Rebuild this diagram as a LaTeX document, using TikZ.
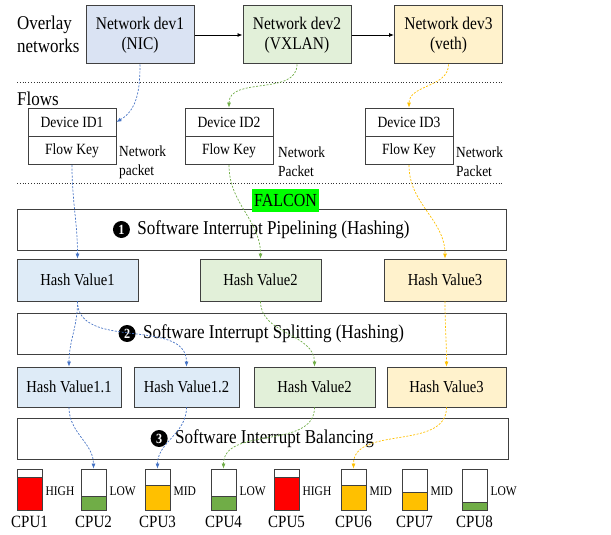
\documentclass[tikz,border=0pt]{standalone}
\usepackage{fontspec}
\setmainfont{Liberation Serif}[FakeStretch=0.87]
\usetikzlibrary{positioning,arrows.meta}
\definecolor{devBlue}{HTML}{DAE3F3}
\definecolor{hashBlue}{HTML}{DEEBF7}
\definecolor{devGreen}{HTML}{E2F0D9}
\definecolor{devYellow}{HTML}{FFF2CC}
\definecolor{lineBlue}{HTML}{4472C4}
\definecolor{lineGreen}{HTML}{70AD47}
\definecolor{lineYellow}{HTML}{FFC000}
\definecolor{edgeGray}{HTML}{404040}
\tikzset{
	%Diagram styles
	device/.style={
		draw=edgeGray,
		rectangle,
		line width=1pt,
		minimum width=108pt,
		minimum height=58pt,
		align=center,
		font=\fontsize{17.8}{20}\selectfont,
	},
	flowCell/.style={
		draw=edgeGray,
		rectangle,
		line width=0.8pt,
		minimum width=88pt,
		minimum height=28pt,
		inner sep=0pt,
		font=\fontsize{15.6}{18}\selectfont,
	},
	hashBox/.style={
		draw=edgeGray,
		rectangle,
		line width=0.8pt,
		inner sep=0pt,
		font=\fontsize{16.8}{19}\selectfont,
	},
	stage/.style={
		draw=edgeGray,
		rectangle,
		line width=0.8pt,
		minimum width=489pt,
		minimum height=41pt,
		inner sep=0pt,
	},
	stageText/.style={
		inner sep=0pt,
		font=\fontsize{19.6}{22}\selectfont,
	},
	stepMark/.style={
		circle,
		fill=black,
		text=white,
		inner sep=0pt,
		minimum size=17pt,
		font=\bfseries\fontsize{14}{15}\selectfont,
	},
	packetLabel/.style={
		anchor=west,
		align=left,
		inner sep=0pt,
		font=\fontsize{15.4}{19}\selectfont,
	},
	cpuBar/.style={
		draw=edgeGray,
		rectangle,
		line width=0.8pt,
		minimum width=25pt,
		minimum height=41pt,
		inner sep=0pt,
	},
	flowLink/.style={
		dashed,
		dash pattern=on 2pt off 1.5pt,
		line width=0.7pt,
		-{Latex[length=5pt,width=4pt]},
	},
	separator/.style={
		dotted,
		line width=0.8pt,
		black!80,
	}
}

\begin{document}
\begin{tikzpicture}[x=1pt, y=-1pt]
	\useasboundingbox (0,0) rectangle (611,535);

	\node[anchor=west, align=left, inner sep=0pt, font=\fontsize{19.5}{23}\selectfont] (overlayLabel) at (17,34) {Overlay\\networks};
	\node[device, fill=devBlue] (dev1) at (140,35) {Network dev1\\(NIC)};
	\node[device, fill=devGreen] (dev2) at (297,35) {Network dev2\\(VXLAN)};
	\node[device, fill=devYellow] (dev3) at (448.5,35) {Network dev3\\(veth)};
	\draw[line width=0.8pt, -{Latex[length=5pt,width=4pt]}] (dev1.east) -- (dev2.west);
	\draw[line width=0.8pt, -{Latex[length=5pt,width=4pt]}] (dev2.east) -- (dev3.west);

	\draw[separator] (17,82) -- (504,82);
	\node[anchor=west, inner sep=0pt, font=\fontsize{19.5}{22}\selectfont] (flowsLabel) at (17,99) {Flows};

	\node[flowCell] (devId1) at (72,122) {Device ID1};
	\node[flowCell, below=0pt of devId1] (flowKey1) {Flow Key};
	\node[flowCell] (devId2) at (229,122) {Device ID2};
	\node[flowCell, below=0pt of devId2] (flowKey2) {Flow Key};
	\node[flowCell] (devId3) at (409,122) {Device ID3};
	\node[flowCell, below=0pt of devId3] (flowKey3) {Flow Key};
	\node[packetLabel] (packet1) at (119,162) {Network\\packet};
	\node[packetLabel] (packet2) at (278,162) {Network\\Packet};
	\node[packetLabel] (packet3) at (456,162) {Network\\Packet};

	\draw[separator] (17,183) -- (504,183);

	\node[stage] (pipeBox) at (261.5,229.5) {};
	\node[stageText] (pipeText) at ([xshift=12pt]pipeBox.center) {Software Interrupt Pipelining (Hashing)};
	\node[stepMark, left=7pt of pipeText] (step1) {1};
	\node[fill=green, inner sep=1pt, minimum width=67pt, minimum height=23pt, font=\fontsize{18.4}{20}\selectfont] (falcon) at (285.5,200.5) {FALCON};

	\node[hashBox, fill=hashBlue, minimum width=121pt, minimum height=42pt] (hash1) at (77.5,280) {Hash Value1};
	\node[hashBox, fill=devGreen, minimum width=121pt, minimum height=42pt] (hash2) at (260.5,280) {Hash Value2};
	\node[hashBox, fill=devYellow, minimum width=122pt, minimum height=42pt] (hash3) at (445,280) {Hash Value3};

	\node[stage] (splitBox) at (261.5,333.5) {};
	\node[stageText] (splitText) at ([xshift=12pt]splitBox.center) {Software Interrupt Splitting (Hashing)};
	\node[stepMark, left=7pt of splitText] (step2) {2};

	\node[hashBox, fill=hashBlue, minimum width=104pt, minimum height=40pt] (hash1a) at (69,387) {Hash Value1.1};
	\node[hashBox, fill=hashBlue, minimum width=105pt, minimum height=40pt] (hash1b) at (186.5,387) {Hash Value1.2};
	\node[hashBox, fill=devGreen, minimum width=121pt, minimum height=40pt] (hash2b) at (314.5,387) {Hash Value2};
	\node[hashBox, fill=devYellow, minimum width=119pt, minimum height=40pt] (hash3b) at (446.5,387) {Hash Value3};

	\node[stage, minimum width=491pt] (balanceBox) at (262.5,438.5) {};
	\node[stageText] (balanceText) at ([xshift=12pt]balanceBox.center) {Software Interrupt Balancing};
	\node[stepMark, left=7pt of balanceText] (step3) {3};

	% CPU load bars: left edge / fill height / colour / level
	\foreach \x/\lvl/\col/\tag [count=\i] in {17/33/red/HIGH, 81/14/lineGreen/LOW, 145/25/lineYellow/MID, 211/14/lineGreen/LOW, 274/33/red/HIGH, 341/25/lineYellow/MID, 402/18/lineYellow/MID, 462/8/lineGreen/LOW}{
		\fill[\col] (\x,510-\lvl) rectangle (\x+25,510);
		\node[cpuBar] (cpu\i) at (\x+12.5,489.5) {};
		\draw[edgeGray, line width=0.8pt] (\x,510-\lvl) -- (\x+25,510-\lvl);
		\node[anchor=west, inner sep=0pt, font=\fontsize{13.2}{15}\selectfont] (level\i) at ([xshift=3pt,yshift=-2pt]cpu\i.east) {\tag};
		\node[inner sep=0pt, font=\fontsize{17.2}{19}\selectfont] (cpuName\i) at (\x+12.5,522) {CPU\i};
	}

	\draw[flowLink, lineBlue] (dev1.south) to[out=-90, in=30] (devId1.east);
	\draw[flowLink, lineGreen] (dev2.south) to[out=-90, in=90] (devId2.north);
	\draw[flowLink, lineYellow] (dev3.south) to[out=-90, in=90] (devId3.north);

	\draw[flowLink, lineBlue] (flowKey1.south) to[out=-90, in=90] (hash1.north);
	\draw[flowLink, lineGreen] (flowKey2.south) to[out=-90, in=90] (hash2.north);
	\draw[flowLink, lineYellow] (flowKey3.south) to[out=-90, in=90] (hash3.north);

	\draw[flowLink, lineBlue] (hash1.south) to[out=-90, in=90] (hash1a.north);
	\draw[flowLink, lineBlue] (hash1.south) to[out=-90, in=90] (hash1b.north);
	\draw[flowLink, lineGreen] (hash2.south) to[out=-90, in=90] (hash2b.north);
	\draw[flowLink, lineYellow] (hash3.south) to[out=-90, in=90] (hash3b.north);

	\draw[flowLink, lineBlue] (hash1a.south) to[out=-90, in=90] (cpu2.north);
	\draw[flowLink, lineBlue] (hash1b.south) to[out=-90, in=90] (cpu3.north);
	\draw[flowLink, lineGreen] (hash2b.south) to[out=-90, in=90] (cpu4.north);
	\draw[flowLink, lineYellow] (hash3b.south) to[out=-90, in=90] (cpu6.north);
\end{tikzpicture}
\end{document}
